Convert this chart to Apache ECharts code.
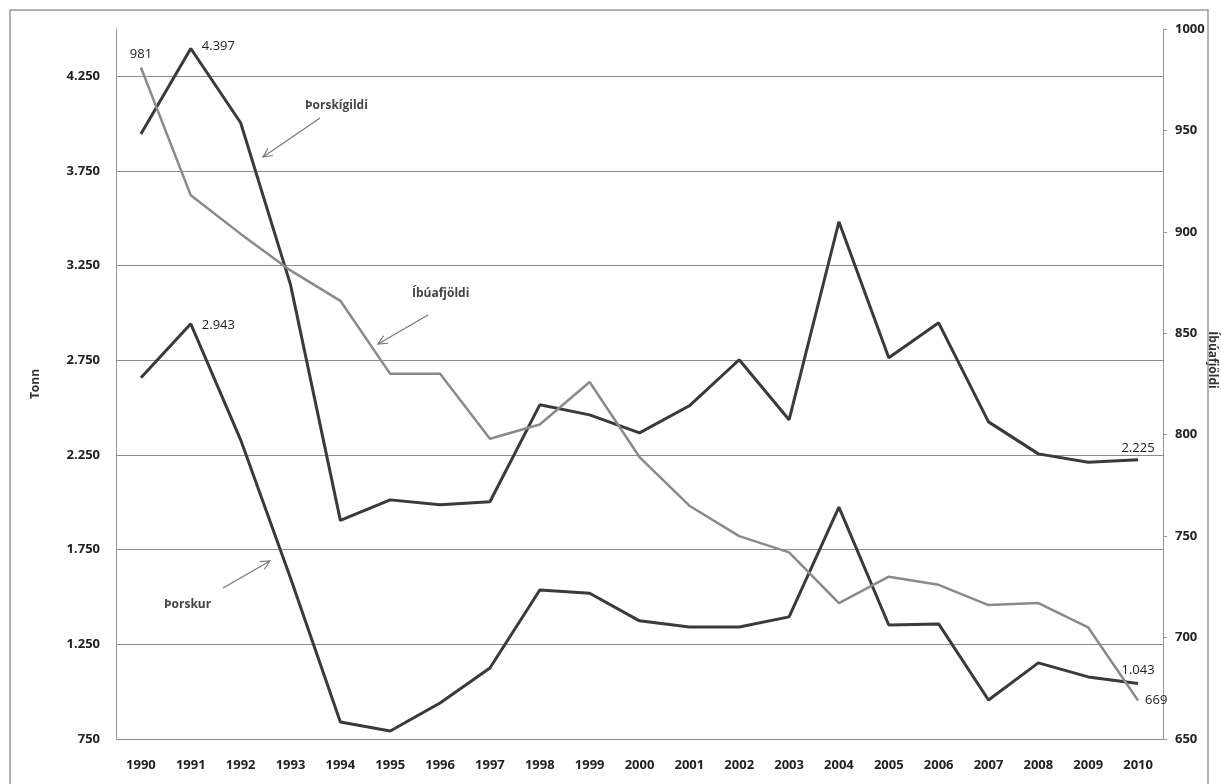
<!DOCTYPE html>
<html><head><meta charset="utf-8">
<script src="https://cdn.jsdelivr.net/npm/echarts@6/dist/echarts.min.js"></script>
<style>html,body{margin:0;padding:0;background:#fff;overflow:hidden}#c{width:1221px;height:784px}</style>
</head><body><div id="c"></div>
<script>
const years = ['1990','1991','1992','1993','1994','1995','1996','1997','1998','1999','2000','2001','2002','2003','2004','2005','2006','2007','2008','2009','2010'];
const thorskigildi = [3945,4397,4005,3150,1905,2013,1987,2003,2515,2462,2367,2510,2753,2436,3482,2764,2948,2425,2256,2212,2225];
const thorskur = [2658,2943,2330,1600,840,792,940,1125,1537,1520,1374,1342,1342,1395,1975,1352,1358,956,1152,1078,1043];
const ibuafjoldi = [981,918,899,881,866,830,830,798,805,826,789,765,750,742,717,730,726,716,717,705,669];
const leftTicks = {min:750, max:4500, interval:500};
const rightTicks = {min:650, max:1000, interval:50};

const fmt = v => String(Math.round(v)).replace(/\B(?=(\d{3})+(?!\d))/g, '.');
const FONT = 'Open Sans';
const lbl = (pos, extra) => Object.assign({show:true, position:pos, formatter: p => fmt(p.value), color:'#222', fontFamily:FONT, fontSize:13}, extra||{});

function withLabels(arr, map){
  return arr.map((v,i) => map[i] ? {value:v, label:map[i]} : v);
}

const chart = echarts.init(document.getElementById('c'), null, {renderer:'canvas', width:1221, height:784});
const axisLabelStyle = {color:'#222', fontFamily:FONT, fontWeight:'bold', fontSize:13};

function arrow(x1,y1,x2,y2){
  const a = Math.atan2(y2-y1, x2-x1), L=10, w=0.45;
  return [
    {type:'line', shape:{x1,y1,x2,y2}, style:{stroke:'#777', lineWidth:1.2}},
    {type:'polyline', shape:{points:[[x2-L*Math.cos(a-w), y2-L*Math.sin(a-w)],[x2,y2],[x2-L*Math.cos(a+w), y2-L*Math.sin(a+w)]]}, style:{stroke:'#777', lineWidth:1.2, fill:null}}
  ];
}

const lineCommon = {type:'line', showSymbol:true, symbol:'circle', symbolSize:0.1};

chart.setOption({
  animation:false,
  backgroundColor:'#fff',
  grid:{left:116, right:58, top:29, bottom:45, containLabel:false, outerBoundsMode:'none'},
  xAxis:{type:'category', data:years, boundaryGap:true,
    axisLine:{show:false}, axisTick:{show:false},
    axisLabel:Object.assign({margin:20, interval:0}, axisLabelStyle)},
  yAxis:[
    {type:'value', min:leftTicks.min, max:leftTicks.max, interval:leftTicks.interval,
     name:'Tonn', nameLocation:'middle', nameGap:74, nameTextStyle:{color:'#333', fontFamily:FONT, fontWeight:'bold', fontSize:12},
     axisLine:{show:true, lineStyle:{color:'#999', width:1}}, axisTick:{show:false},
     axisLabel:Object.assign({margin:16, showMaxLabel:false, formatter: v => v===4500 ? '' : fmt(v)}, axisLabelStyle),
     splitLine:{show:true, showMaxLine:false, lineStyle:{color:'#8c8c8c', width:1.2}}},
    {type:'value', min:rightTicks.min, max:rightTicks.max, interval:rightTicks.interval, position:'right',
     axisLine:{show:true, lineStyle:{color:'#999', width:1}}, axisTick:{show:true, length:4, lineStyle:{color:'#999'}},
     axisLabel:Object.assign({margin:12, formatter: v => String(v)}, axisLabelStyle),
     splitLine:{show:false}}
  ],
  series:[
    Object.assign({}, lineCommon, {name:'Þorskígildi', yAxisIndex:0,
     lineStyle:{color:'#3a3a3a', width:3}, itemStyle:{color:'#3a3a3a'},
     data: withLabels(thorskigildi, {1: lbl('right', {offset:[6,-2]}), 20: lbl('top', {offset:[0,0]})})}),
    Object.assign({}, lineCommon, {name:'Þorskur', yAxisIndex:0,
     lineStyle:{color:'#3a3a3a', width:3}, itemStyle:{color:'#3a3a3a'},
     data: withLabels(thorskur, {1: lbl('right', {offset:[6,2]}), 20: lbl('top', {offset:[0,-2]})})}),
    Object.assign({}, lineCommon, {name:'Íbúafjöldi', yAxisIndex:1,
     lineStyle:{color:'#8a8a8a', width:2.5}, itemStyle:{color:'#8a8a8a'},
     data: withLabels(ibuafjoldi, {0: lbl('top', {offset:[0,-2]}), 20: lbl('right', {offset:[2,0]})})})
  ],
  graphic:[
    {type:'rect', z:100, shape:{x:10, y:10, width:1198, height:790}, style:{stroke:'#999', lineWidth:1.5, fill:'none'}, silent:true},
    {type:'text', x:1212, y:360, rotation:-Math.PI/2, style:{text:'Íbúafjöldi', font:'bold 12px "Open Sans"', fill:'#333', align:'center', verticalAlign:'middle'}},
    {type:'text', x:305, y:100, style:{text:'Þorskígildi', font:'bold 12px "Open Sans"', fill:'#444'}},
    ...arrow(320,118,263,157),
    {type:'text', x:412, y:288, style:{text:'Íbúafjöldi', font:'bold 12px "Open Sans"', fill:'#444'}},
    ...arrow(428,315,378,344),
    {type:'text', x:164, y:599, style:{text:'Þorskur', font:'bold 12px "Open Sans"', fill:'#444'}},
    ...arrow(223,588,270,561)
  ]
});
</script></body></html>
